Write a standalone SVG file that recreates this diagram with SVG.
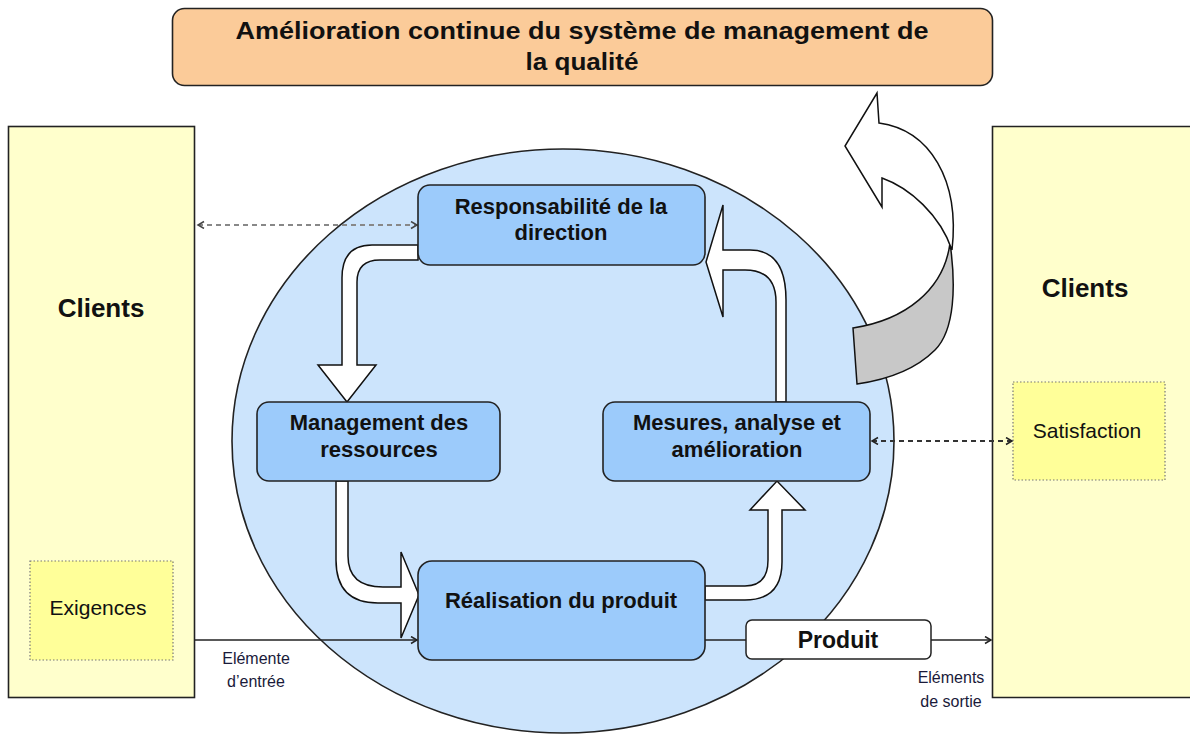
<svg xmlns="http://www.w3.org/2000/svg" width="1190" height="737" viewBox="0 0 1190 737">
<defs>
<style>
.t{font-family:"Liberation Sans",Arial,sans-serif;fill:#111;text-anchor:middle}
.b{font-weight:bold}
.box{fill:#9ccbfb;stroke:#222;stroke-width:1.6}
.panel{fill:#ffffcc;stroke:#222;stroke-width:1.6}
.inner{fill:#ffff99;stroke:#777;stroke-width:1.2;stroke-dasharray:1.5 2}
.blk{fill:#fff;stroke:#111;stroke-width:1.5;stroke-linejoin:miter}
.ln{stroke:#222;stroke-width:1.5;fill:none}
.dsh1{stroke:#888;stroke-width:1.8;fill:none;stroke-dasharray:5 4}
.dsh2{stroke:#333;stroke-width:1.8;fill:none;stroke-dasharray:5 4}
.small{font-size:16px;fill:#1a1a3a}
</style>
<marker id="ah" markerWidth="10" markerHeight="10" refX="7" refY="4" orient="auto-start-reverse" markerUnits="userSpaceOnUse">
<path d="M1,0.5 L7,4 L1,7.5" fill="none" stroke="#222" stroke-width="1.5"/>
</marker>
<marker id="ahg" markerWidth="10" markerHeight="10" refX="7" refY="4" orient="auto-start-reverse" markerUnits="userSpaceOnUse">
<path d="M1,0.5 L7,4 L1,7.5" fill="none" stroke="#444" stroke-width="1.5"/>
</marker>
</defs>
<rect width="1190" height="737" fill="#fff"/>

<g id="clients-left">
<rect class="panel" x="8.5" y="126.5" width="186" height="571"/>
<text class="t b" x="101" y="317" font-size="26">Clients</text>
</g>
<g id="exigences">
<rect class="inner" x="30" y="561" width="143" height="99"/>
<text class="t" x="98" y="615" font-size="21">Exigences</text>
</g>
<g id="clients-right">
<path class="panel" d="M1192,126.5 L992.5,126.5 L992.5,697.5 L1192,697.5"/>
<text class="t b" x="1085" y="297" font-size="26">Clients</text>
</g>
<g id="satisfaction">
<rect class="inner" x="1013" y="382" width="152" height="98"/>
<text class="t" x="1087" y="438" font-size="21">Satisfaction</text>
</g>

<g id="banner">
<rect x="172.5" y="8.5" width="820" height="77" rx="12" fill="#fbcb99" stroke="#222" stroke-width="1.6"/>
<text class="t b" x="582" y="39" font-size="24" textLength="693" lengthAdjust="spacingAndGlyphs">Amélioration continue du système de management de</text>
<text class="t b" x="582" y="70" font-size="24" textLength="113" lengthAdjust="spacingAndGlyphs">la qualité</text>
</g>

<g id="cycle">
<ellipse cx="563" cy="441" rx="331" ry="292" fill="#cce4fc" stroke="#222" stroke-width="1.6"/>
</g>

<g id="improvement-arrow">
<path d="M853,328 C905,320 944,290 950,243 C956,285 955,330 935,350 C915,370 885,380 857,384 Z" fill="#c8c8c8" stroke="#111" stroke-width="1.5"/>
<path d="M879,123 C930,130 960,180 952,250 C940,215 910,188 882,178 L882,207 L845,146 L877,93 Z" fill="#fff" stroke="#111" stroke-width="1.5"/>
</g>

<g id="connectors">
<line class="dsh1" x1="198" y1="225" x2="417" y2="225" marker-start="url(#ahg)" marker-end="url(#ahg)"/>
<line class="dsh2" x1="872" y1="441" x2="1012" y2="441" marker-start="url(#ah)" marker-end="url(#ah)"/>
<line class="ln" x1="195" y1="640" x2="417" y2="640" marker-end="url(#ah)"/>
<line class="ln" x1="705" y1="640" x2="746" y2="640"/>
<line class="ln" x1="931" y1="640" x2="991" y2="640" marker-end="url(#ah)"/>
<path class="blk" d="M418,245 L372,245 Q342,245 342,278 L342,365 L318,365 L347,402 L376,365 L357,365 L357,282 Q357,260 380,260 L418,260 Z"/>
<path class="blk" d="M336,481 L336,560 Q336,603 378,603 L401,603 L401,638 L419,595 L401,552 L401,587 L383,587 Q348,587 348,556 L348,481 Z"/>
<path class="blk" d="M705,586 L745,586 Q768,586 768,560 L768,510 L750,510 L777,481 L805,510 L782,510 L782,562 Q782,600 745,600 L705,600 Z"/>
<path class="blk" d="M776,402 L776,302 Q776,270 745,270 L723,270 L723,317 L706,262 L723,205 L723,250 L750,250 Q786,250 786,300 L786,402 Z"/>
</g>

<g id="responsabilite">
<rect class="box" x="418" y="185" width="287" height="80" rx="12"/>
<text class="t b" x="561" y="214" font-size="22">Responsabilité de la</text>
<text class="t b" x="561" y="240" font-size="22">direction</text>
</g>
<g id="management">
<rect class="box" x="257" y="402" width="243" height="79" rx="12"/>
<text class="t b" x="379" y="430" font-size="22">Management des</text>
<text class="t b" x="379" y="457" font-size="22">ressources</text>
</g>
<g id="mesures">
<rect class="box" x="603" y="402" width="267" height="79" rx="12"/>
<text class="t b" x="737" y="430" font-size="22">Mesures, analyse et</text>
<text class="t b" x="737" y="457" font-size="22">amélioration</text>
</g>
<g id="realisation">
<rect class="box" x="418" y="561" width="287" height="99" rx="14"/>
<text class="t b" x="561" y="608" font-size="22">Réalisation du produit</text>
</g>
<g id="produit">
<rect x="746" y="620" width="185" height="39" rx="6" fill="#fff" stroke="#222" stroke-width="1.5"/>
<text class="t b" x="838" y="648" font-size="23">Produit</text>
</g>

<g id="labels">
<text class="t small" x="256" y="664">Elémente</text>
<text class="t small" x="256" y="687">d’entrée</text>
<text class="t small" x="951" y="683">Eléments</text>
<text class="t small" x="951" y="707">de sortie</text>
</g>
</svg>
